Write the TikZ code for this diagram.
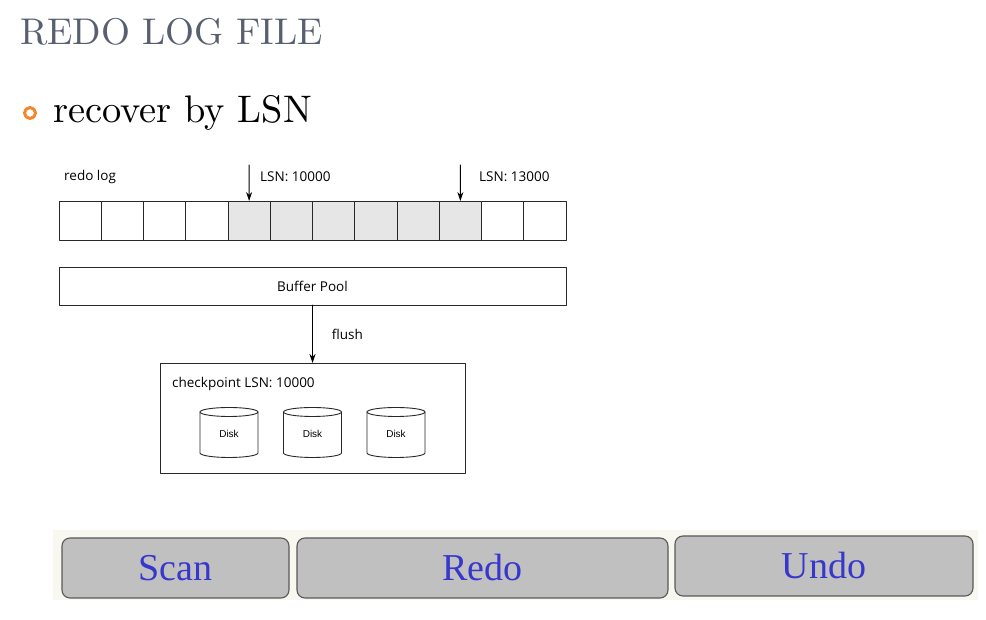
\documentclass[tikz,border=0pt]{standalone}
\usepackage{fontspec}
\usetikzlibrary{arrows.meta}
\newfontfamily\headfont{lmroman10-regular}[Extension=.otf]
\newfontfamily\diagfont{Open Sans}
\newfontfamily\diskfont{Liberation Sans}
\newfontfamily\btnfont{Liberation Serif}
\definecolor{titlegray}{RGB}{88,96,112}
\definecolor{bulletorange}{RGB}{245,135,45}
\definecolor{cellgray}{RGB}{230,230,230}
\definecolor{btngray}{RGB}{192,192,192}
\definecolor{btnblue}{RGB}{55,55,205}
\definecolor{barbg}{RGB}{248,248,241}
\definecolor{linegray}{RGB}{40,40,40}
\begin{document}
\begin{tikzpicture}[x=1pt,y=1pt,line cap=round,line join=round,
  cell/.style={draw=linegray,line width=0.9pt,minimum width=42.25pt,minimum height=39pt,inner sep=0pt,outer sep=0pt},
  box/.style={draw=linegray,line width=0.9pt,inner sep=0pt,outer sep=0pt},
  disk/.style={inner sep=0pt,font=\diskfont\fontsize{10}{12}\selectfont},
  label/.style={font=\diagfont\fontsize{13.5}{16}\selectfont,inner sep=0pt},
  button/.style={draw=black!65,line width=1.1pt,fill=btngray,rounded corners=8pt,inner sep=0pt,text=btnblue,font=\btnfont\fontsize{38}{40}\selectfont},
  arr/.style={-{Stealth[length=9pt,width=6pt]},line width=0.9pt,draw=black}]
  \useasboundingbox (0,0) rectangle (986,620);
  % heading
  \node[anchor=base west,inner sep=0pt,text=titlegray,font=\headfont\fontsize{37.2}{40}\selectfont] (title) at (20,575) {REDO LOG FILE};
  \draw[bulletorange,line width=3pt] (30,507) circle (5.5pt);
  \node[anchor=base west,inner sep=0pt,font=\headfont\fontsize{38.4}{41}\selectfont] (item) at (53,497) {recover by LSN};
  % redo log
  \foreach \i in {1,2,3,4,11,12}
    \node[cell] (c\i) at ({59+(\i-0.5)*42.25},399.5) {};
  \foreach \i in {5,...,10}
    \node[cell,fill=cellgray] (c\i) at ({59+(\i-0.5)*42.25},399.5) {};
  \node[label,anchor=west] (redolog) at (64,443) {redo log};
  \coordinate (p1) at (249.1,455);
  \coordinate (p2) at (460.4,455);
  \draw[arr] (p1) -- (c5.north);
  \draw[arr] (p2) -- (c10.north);
  \node[label,anchor=west] (lsn1) at (260,443) {LSN: 10000};
  \node[label,anchor=west] (lsn2) at (479,443) {LSN: 13000};
  % buffer pool
  \node[box,minimum width=507pt,minimum height=38pt,label] (buf) at (312.5,334) {Buffer Pool};
  \node[box,minimum width=305pt,minimum height=110pt] (chk) at (312.5,202) {};
  \draw[arr] (buf.south) -- (chk.north) node[midway,right=19pt,label] (flush) {flush};
  \node[label,anchor=west] (chklsn) at (172,236) {checkpoint LSN: 10000};
  \node[disk] (d1) at (229,186) {Disk};
  \node[disk] (d2) at (312.5,186) {Disk};
  \node[disk] (d3) at (396,186) {Disk};
  \foreach \d in {d1,d2,d3}{
    \draw[linegray,line width=0.9pt] (\d.center) ++(0,22) ellipse (29pt and 4.5pt);
    \draw[linegray,line width=0.9pt] (\d.center) ++(-29,22) -- ++(0,-41)
      arc[start angle=180,end angle=360,x radius=29pt,y radius=4.5pt] -- ++(0,41);
  }
  % phases
  \fill[barbg] (53,20) rectangle (978,90);
  \node[button,minimum width=227pt,minimum height=60pt] (scan) at (175.5,52) {Scan};
  \node[button,minimum width=371pt,minimum height=60pt] (redo) at (482.5,52) {Redo};
  \node[button,minimum width=298pt,minimum height=60pt] (undo) at (824,54) {Undo};
\end{tikzpicture}
\end{document}
